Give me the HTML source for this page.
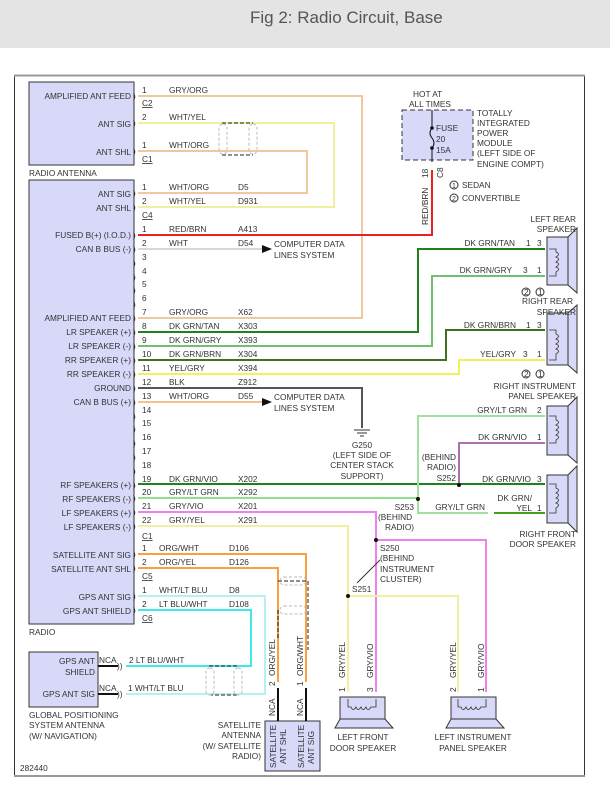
<!DOCTYPE html>
<html><head><meta charset="utf-8"><style>
body{margin:0;background:#fff;width:610px;height:790px;overflow:hidden}
svg{display:block}
text{font-family:"Liberation Sans",sans-serif;font-size:8.3px;fill:#333}
.r{text-anchor:end}.m{text-anchor:middle}
.w{fill:none;stroke-width:2}
.b{font-size:11px;fill:#333}
</style></head><body>
<svg width="610" height="790" viewBox="0 0 610 790">
<rect x="0" y="0" width="610" height="48" fill="#e4e4e4"/>
<text x="250" y="23" style="font-size:17px;fill:#555">Fig 2: Radio Circuit, Base</text>
<rect x="14.5" y="75.5" width="570" height="700" fill="none" stroke="#333" stroke-width="1"/>
<line x1="14" y1="75.5" x2="585" y2="75.5" stroke="#999" stroke-width="2"/>
<line x1="14" y1="776" x2="585" y2="776" stroke="#999" stroke-width="2"/>

<rect x="29" y="82" width="105" height="83" fill="#d8d8f8" stroke="#333"/>
<rect x="29" y="180" width="105" height="444" fill="#d8d8f8" stroke="#333"/>
<rect x="29" y="652" width="69" height="55" fill="#d8d8f8" stroke="#333"/>
<rect x="265" y="721" width="55" height="50" fill="#d8d8f8" stroke="#333"/>
<rect x="402" y="110" width="71" height="50" fill="#d8d8f8" stroke="#333" stroke-dasharray="5,3"/>

<g class="w">
<polyline points="138,96 362,96 362,318 138,318" stroke="#f0c8a0"/>
<polyline points="138,123 334,123 334,207 138,207" stroke="#f0f0a0"/>
<polyline points="138,151 307,151 307,193 138,193" stroke="#f0c8a0"/>
<polyline points="138,235 432,235 432,170" stroke="#e82020"/>
<polyline points="138,249 262,249" stroke="#d8d8d8"/>
<polyline points="138,402 262,402" stroke="#f8c090"/>
<polyline points="138,332 418,332 418,249 545,249" stroke="#208020"/>
<polyline points="138,346 432,346 432,276 545,276" stroke="#70c070"/>
<polyline points="138,360 446,360 446,330 545,330" stroke="#407020"/>
<polyline points="138,374 459,374 459,360 545,360" stroke="#f0f060"/>
<polyline points="138,388 362,388 362,428" stroke="#555"/>
<polyline points="138,484 545,484" stroke="#208020"/>
<polyline points="138,498 418,498" stroke="#90e090"/>
<polyline points="418,513 418,416 545,416" stroke="#a0e0a0"/>
<polyline points="418,498 418,513 488,513" stroke="#a0e0a0"/>
<polyline points="494,513 545,513" stroke="#40a020"/>
<polyline points="459,484 459,443 545,443" stroke="#b070b0"/>
<polyline points="138,512 376,512 376,692" stroke="#f080f0"/>
<polyline points="376,540 486,540 486,692" stroke="#f080f0"/>
<polyline points="138,526 348,526 348,692" stroke="#f0f0a0"/>
<polyline points="348,596 458,596 458,692" stroke="#f0f0a0"/>
<polyline points="138,554 306,554 306,682" stroke="#f8a040"/>
<polyline points="138,568 278,568 278,682" stroke="#f8a040"/>
<polyline points="138,596 265,596 265,694 126,694" stroke="#b8f0f0"/>
<polyline points="138,610 251,610 251,666 126,666" stroke="#40e8e8"/>
</g>
<g stroke="#111" stroke-width="2">
<line x1="278" y1="688" x2="278" y2="721"/><line x1="306" y1="688" x2="306" y2="721"/>
<line x1="98" y1="666" x2="118" y2="666"/><line x1="98" y1="694" x2="118" y2="694"/>
</g>
<g stroke="#111" stroke-width="1" fill="none">
<line x1="432" y1="110" x2="432" y2="128"/><path d="M432,128 q-4,5 0,10 q4,5 0,10"/><line x1="432" y1="148" x2="432" y2="162"/>
<circle cx="432" cy="128" r="1.3" fill="#111"/><circle cx="432" cy="148" r="1.3" fill="#111"/>
</g>
<g fill="none" stroke="#222" stroke-dasharray="4,2">
<path d="M222,123 H253 M222,155 H253"/>
<path d="M278,581 H308 V650 M278,610 V640"/>
<path d="M209,666 H239 M209,695 H239"/>
</g>
<g fill="none" stroke="#bbb" stroke-dasharray="3,2">
<rect x="219" y="124" width="8" height="30" rx="4"/><rect x="249" y="124" width="8" height="30" rx="4"/>
<rect x="280" y="577" width="26" height="8" rx="4"/><rect x="280" y="606" width="26" height="8" rx="4"/>
<rect x="206" y="668" width="8" height="27" rx="4"/><rect x="234" y="668" width="8" height="27" rx="4"/>
</g>
<polygon points="262,245 272,249 262,253" fill="#111"/>
<polygon points="262,398 272,402 262,406" fill="#111"/>
<g stroke="#333"><line x1="354" y1="430" x2="370" y2="430"/><line x1="357" y1="433" x2="367" y2="433"/><line x1="360" y1="436" x2="364" y2="436"/></g>
<g fill="#111"><circle cx="418" cy="499" r="2"/><circle cx="459" cy="485" r="2"/><circle cx="376" cy="540" r="2"/><circle cx="348" cy="596" r="2"/></g>
<line x1="380" y1="560" x2="357" y2="583" stroke="#333"/>
<g fill="#d8d8f8" stroke="#333">
<rect x="547" y="237" width="21" height="48"/><polygon points="568,237 577,228 577,293 568,285"/>
<rect x="547" y="313" width="21" height="52"/><polygon points="568,313 577,305 577,373 568,365"/>
<rect x="547" y="406" width="21" height="49"/><polygon points="568,406 577,397 577,463 568,455"/>
<rect x="547" y="475" width="21" height="48"/><polygon points="568,475 577,466 577,532 568,523"/>
<rect x="340" y="697" width="45" height="22"/><polygon points="340,719 335,728 393,728 385,719"/>
<rect x="451" y="697" width="45" height="22"/><polygon points="451,719 446,728 504,728 496,719"/>
</g>
<!-- coils -->
<g fill="none" stroke="#333" stroke-width="0.8">
<path d="M549,249 H556 V252 q5,2 0,5 q5,2 0,5 q5,2 0,5 q5,2 0,5 V276 H549"/>
<path d="M549,330 H556 V334 q5,2 0,5 q5,2 0,5 q5,2 0,5 q5,2 0,5 V360 H549"/>
<path d="M549,416 H556 V420 q5,2 0,5 q5,2 0,5 q5,2 0,5 q5,2 0,5 V443 H549"/>
<path d="M549,484 H556 V488 q5,2 0,5 q5,2 0,5 q5,2 0,5 q5,2 0,5 V513 H549"/>
<path d="M348,699 V707 H351 q2,5 5,0 q2,5 5,0 q2,5 5,0 q2,5 5,0 H376 V699"/>
<path d="M458,699 V707 H461 q2,5 5,0 q2,5 5,0 q2,5 5,0 q2,5 5,0 H486 V699"/>
</g>
<!-- connector brackets -->
<g class="b">
<text x="133" y="99">)</text><text x="133" y="126">)</text><text x="133" y="154">)</text>
<text x="133" y="196">)</text><text x="133" y="210">)</text><text x="133" y="238">)</text><text x="133" y="252">)</text>
<text x="133" y="266">)</text><text x="133" y="280">)</text><text x="133" y="293">)</text><text x="133" y="307">)</text>
<text x="133" y="321">)</text><text x="133" y="335">)</text><text x="133" y="349">)</text><text x="133" y="363">)</text>
<text x="133" y="377">)</text><text x="133" y="391">)</text><text x="133" y="405">)</text><text x="133" y="419">)</text>
<text x="133" y="432">)</text><text x="133" y="446">)</text><text x="133" y="460">)</text><text x="133" y="474">)</text>
<text x="133" y="488">)</text><text x="133" y="501">)</text><text x="133" y="515">)</text><text x="133" y="529">)</text>
<text x="133" y="557">)</text><text x="133" y="571">)</text><text x="133" y="599">)</text><text x="133" y="613">)</text>
<text x="117" y="669">))</text><text x="117" y="697">))</text>
</g>
<g>
<text x="142" y="93">1</text><text x="142" y="120">2</text><text x="142" y="148">1</text>
<text x="142" y="190">1</text><text x="142" y="204">2</text><text x="142" y="232">1</text><text x="142" y="246">2</text>
<text x="142" y="260">3</text><text x="142" y="274">4</text><text x="142" y="287">5</text><text x="142" y="301">6</text>
<text x="142" y="315">7</text><text x="142" y="329">8</text><text x="142" y="343">9</text><text x="142" y="357">10</text>
<text x="142" y="371">11</text><text x="142" y="385">12</text><text x="142" y="399">13</text><text x="142" y="413">14</text>
<text x="142" y="426">15</text><text x="142" y="440">16</text><text x="142" y="454">17</text><text x="142" y="468">18</text>
<text x="142" y="482">19</text><text x="142" y="495">20</text><text x="142" y="509">21</text><text x="142" y="523">22</text>
<text x="142" y="551">1</text><text x="142" y="565">2</text><text x="142" y="593">1</text><text x="142" y="607">2</text>
<text x="142" y="106" text-decoration="underline">C2</text><text x="142" y="162" text-decoration="underline">C1</text>
<text x="142" y="218" text-decoration="underline">C4</text><text x="142" y="539" text-decoration="underline">C1</text>
<text x="142" y="579" text-decoration="underline">C5</text><text x="142" y="621" text-decoration="underline">C6</text>
</g>
<g>
<text x="169" y="93">GRY/ORG</text><text x="169" y="120">WHT/YEL</text><text x="169" y="148">WHT/ORG</text>
<text x="169" y="190">WHT/ORG</text><text x="238" y="190">D5</text>
<text x="169" y="204">WHT/YEL</text><text x="238" y="204">D931</text>
<text x="169" y="232">RED/BRN</text><text x="238" y="232">A413</text>
<text x="169" y="246">WHT</text><text x="238" y="246">D54</text>
<text x="169" y="315">GRY/ORG</text><text x="238" y="315">X62</text>
<text x="169" y="329">DK GRN/TAN</text><text x="238" y="329">X303</text>
<text x="169" y="343">DK GRN/GRY</text><text x="238" y="343">X393</text>
<text x="169" y="357">DK GRN/BRN</text><text x="238" y="357">X304</text>
<text x="169" y="371">YEL/GRY</text><text x="238" y="371">X394</text>
<text x="169" y="385">BLK</text><text x="238" y="385">Z912</text>
<text x="169" y="399">WHT/ORG</text><text x="238" y="399">D55</text>
<text x="169" y="482">DK GRN/VIO</text><text x="238" y="482">X202</text>
<text x="169" y="495">GRY/LT GRN</text><text x="238" y="495">X292</text>
<text x="169" y="509">GRY/VIO</text><text x="238" y="509">X201</text>
<text x="169" y="523">GRY/YEL</text><text x="238" y="523">X291</text>
<text x="159" y="551">ORG/WHT</text><text x="229" y="551">D106</text>
<text x="159" y="565">ORG/YEL</text><text x="229" y="565">D126</text>
<text x="159" y="593">WHT/LT BLU</text><text x="229" y="593">D8</text>
<text x="159" y="607">LT BLU/WHT</text><text x="229" y="607">D108</text>
<text x="274" y="247">COMPUTER DATA</text><text x="274" y="258">LINES SYSTEM</text>
<text x="274" y="400">COMPUTER DATA</text><text x="274" y="411">LINES SYSTEM</text>
</g>
<g class="r">
<text x="131" y="99">AMPLIFIED ANT FEED</text><text x="131" y="127">ANT SIG</text><text x="131" y="155">ANT SHL</text>
<text x="131" y="197">ANT SIG</text><text x="131" y="211">ANT SHL</text><text x="131" y="238">FUSED B(+) (I.O.D.)</text>
<text x="131" y="252">CAN B BUS (-)</text><text x="131" y="321">AMPLIFIED ANT FEED</text>
<text x="131" y="335">LR SPEAKER (+)</text><text x="131" y="349">LR SPEAKER (-)</text><text x="131" y="363">RR SPEAKER (+)</text>
<text x="131" y="377">RR SPEAKER (-)</text><text x="131" y="391">GROUND</text><text x="131" y="405">CAN B BUS (+)</text>
<text x="131" y="488">RF SPEAKERS (+)</text><text x="131" y="502">RF SPEAKERS (-)</text><text x="131" y="516">LF SPEAKERS (+)</text>
<text x="131" y="530">LF SPEAKERS (-)</text><text x="131" y="558">SATELLITE ANT SIG</text><text x="131" y="572">SATELLITE ANT SHL</text>
<text x="131" y="600">GPS ANT SIG</text><text x="131" y="614">GPS ANT SHIELD</text>
<text x="95" y="664">GPS ANT</text><text x="95" y="675">SHIELD</text><text x="95" y="697">GPS ANT SIG</text>
</g>
<text x="29" y="176">RADIO ANTENNA</text><text x="29" y="635">RADIO</text>
<text x="29" y="718">GLOBAL POSITIONING</text><text x="29" y="728">SYSTEM ANTENNA</text><text x="29" y="739">(W/ NAVIGATION)</text>
<text x="20" y="771">282440</text>
<text x="99" y="663">NCA</text><text x="99" y="691">NCA</text>
<text x="129" y="663">2 LT BLU/WHT</text><text x="128" y="691">1 WHT/LT BLU</text>
<g class="r"><text x="261" y="728">SATELLITE</text><text x="261" y="738">ANTENNA</text><text x="261" y="749">(W/ SATELLITE</text><text x="261" y="759">RADIO)</text></g>
<g>
<text transform="translate(275,676) rotate(-90)">ORG/YEL</text><text transform="translate(303,676) rotate(-90)">ORG/WHT</text>
<text transform="translate(275,686) rotate(-90)">2</text><text transform="translate(303,686) rotate(-90)">1</text>
<text transform="translate(275,716) rotate(-90)">NCA</text><text transform="translate(303,716) rotate(-90)">NCA</text>
<text transform="translate(276,768) rotate(-90)">SATELLITE</text><text transform="translate(286,764) rotate(-90)">ANT SHL</text>
<text transform="translate(304,768) rotate(-90)">SATELLITE</text><text transform="translate(314,764) rotate(-90)">ANT SIG</text>
<text transform="translate(428,225) rotate(-90)">RED/BRN</text><text transform="translate(428,178) rotate(-90)">18</text>
<text transform="translate(443,178) rotate(-90)">C8</text>
<text transform="translate(345,678) rotate(-90)">GRY/YEL</text><text transform="translate(373,678) rotate(-90)">GRY/VIO</text>
<text transform="translate(456,678) rotate(-90)">GRY/YEL</text><text transform="translate(484,678) rotate(-90)">GRY/VIO</text>
<text transform="translate(345,692) rotate(-90)">1</text><text transform="translate(373,692) rotate(-90)">3</text>
<text transform="translate(456,692) rotate(-90)">2</text><text transform="translate(484,692) rotate(-90)">1</text>
</g>
<text x="413" y="97">HOT AT</text><text x="409" y="107">ALL TIMES</text>
<text x="436" y="131">FUSE</text><text x="436" y="142">20</text><text x="436" y="153">15A</text>
<text x="477" y="116">TOTALLY</text><text x="477" y="126">INTEGRATED</text><text x="477" y="136">POWER</text>
<text x="477" y="146">MODULE</text><text x="477" y="156">(LEFT SIDE OF</text><text x="477" y="167">ENGINE COMPT)</text>
<circle cx="454" cy="185" r="4" fill="none" stroke="#333"/><text x="452" y="188" style="font-size:7px">1</text><text x="462" y="188">SEDAN</text>
<circle cx="454" cy="198" r="4" fill="none" stroke="#333"/><text x="452" y="201" style="font-size:7px">2</text><text x="462" y="201">CONVERTIBLE</text>
<g class="r">
<text x="576" y="222">LEFT REAR</text><text x="576" y="232">SPEAKER</text>
<text x="515" y="246">DK GRN/TAN</text><text x="512" y="273">DK GRN/GRY</text>
<text x="573" y="304">RIGHT REAR</text><text x="576" y="315">SPEAKER</text>
<text x="516" y="328">DK GRN/BRN</text><text x="516" y="357">YEL/GRY</text>
<text x="576" y="389">RIGHT INSTRUMENT</text><text x="576" y="399">PANEL SPEAKER</text>
<text x="527" y="413">GRY/LT GRN</text><text x="527" y="440">DK GRN/VIO</text>
<text x="531" y="482">DK GRN/VIO</text><text x="532" y="501">DK GRN/</text><text x="532" y="511">YEL</text>
<text x="576" y="537">RIGHT FRONT</text><text x="576" y="547">DOOR SPEAKER</text>
<text x="485" y="510">GRY/LT GRN</text>
<text x="456" y="460">(BEHIND</text><text x="456" y="470">RADIO)</text><text x="456" y="481">S252</text>
<text x="414" y="510">S253</text>
</g>
<g>
<text x="526" y="246">1</text><text x="537" y="246">3</text><text x="523" y="273">3</text><text x="537" y="273">1</text>
<text x="526" y="328">1</text><text x="537" y="328">3</text><text x="523" y="357">3</text><text x="537" y="357">1</text>
<text x="537" y="413">2</text><text x="537" y="440">1</text><text x="537" y="482">3</text><text x="537" y="511">1</text>
<text x="378" y="520">(BEHIND</text><text x="385" y="530">RADIO)</text>
<text x="380" y="551">S250</text><text x="380" y="561">(BEHIND</text><text x="380" y="572">INSTRUMENT</text><text x="380" y="582">CLUSTER)</text>
<text x="352" y="592">S251</text>
<text x="362" y="448" class="m">G250</text><text x="362" y="458" class="m">(LEFT SIDE OF</text>
<text x="362" y="468" class="m">CENTER STACK</text><text x="362" y="479" class="m">SUPPORT)</text>
<text x="363" y="740" class="m">LEFT FRONT</text><text x="363" y="751" class="m">DOOR SPEAKER</text>
<text x="473" y="740" class="m">LEFT INSTRUMENT</text><text x="473" y="751" class="m">PANEL SPEAKER</text>
</g>
<g fill="none" stroke="#333"><circle cx="526" cy="292" r="4"/><circle cx="540" cy="292" r="4"/><circle cx="526" cy="374" r="4"/><circle cx="540" cy="374" r="4"/></g>
<g style="font-size:7px"><text x="524" y="295">2</text><text x="538" y="295">1</text><text x="524" y="377">2</text><text x="538" y="377">1</text></g>
</svg>
</body></html>
